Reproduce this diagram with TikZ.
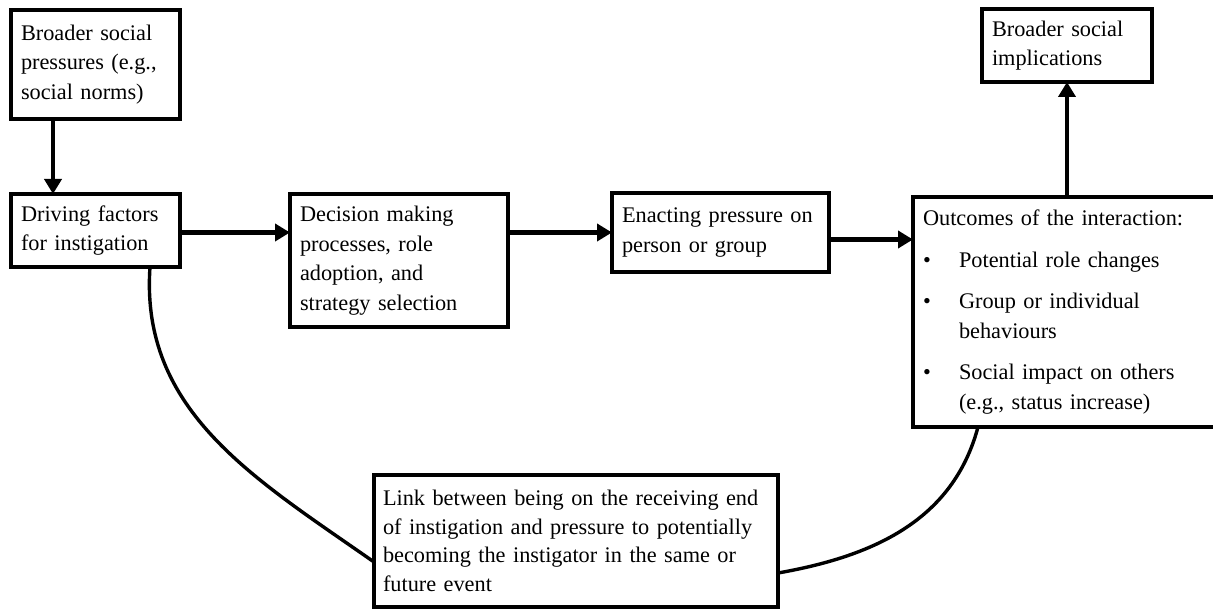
\documentclass[tikz,border=0pt]{standalone}
\usepackage{fontspec}
\setmainfont{Liberation Serif}
\usetikzlibrary{arrows.meta}
\tikzset{
  boxnode/.style n args={3}{draw, line width=3.2pt, anchor=north west, outer sep=0pt,
    inner xsep=10pt, inner ysep=0pt, align=left,
    font=\fontsize{22.3pt}{29.5pt}\selectfont,
    minimum width=#1pt, text width=#2pt, minimum height=#3pt},
  arr/.style={line width=4.5pt, -{Triangle[length=15pt,width=17pt]}},
  link/.style={line width=3.4pt},
}
\begin{document}
\begin{tikzpicture}[x=1pt,y=1pt]
\useasboundingbox (0,0) rectangle (1213,-609);
\node[boxnode={169}{149}{109}] (b1) at (11,-10) {Broader social\\pressures (e.g.,\\social norms)};
\node[boxnode={169}{149}{73}] (b2) at (11,-194) {Driving factors\\for instigation};
\node[boxnode={218}{198}{133}] (b3) at (290,-194) {Decision making\\processes, role\\adoption, and\\strategy selection};
\node[boxnode={217}{197}{79}] (b4) at (612,-193) {Enacting pressure on\\person or group};
\node[boxnode={303}{283}{230}] (b5) at (913,-197) {Outcomes of the interaction:\\[12pt]
\makebox[36pt][l]{\textbullet}Potential role changes\\[12pt]
\makebox[36pt][l]{\textbullet}Group or individual\\
\hspace*{36pt}behaviours\\[12pt]
\makebox[36pt][l]{\textbullet}Social impact on others\\
\hspace*{36pt}(e.g., status increase)};
\node[boxnode={170}{150}{73}] (b6) at (982,-9) {Broader social\\implications};
\node[boxnode={404}{386}{132}, inner xsep=9pt, font=\fontsize{22.3pt}{28.5pt}\selectfont] (b7) at (374,-475) {Link between being on the receiving end\\of instigation and pressure to potentially\\becoming the instigator in the same or\\future event};
% arrows
\coordinate (a1) at ([xshift=42pt]b1.south west);
\draw[arr] (a1) -- (a1 |- b2.north);
\coordinate (a2) at ([yshift=-2pt]b2.east);
\draw[arr] (a2) -- (a2 -| b3.west);
\draw[arr] (b4.west -| b3.east) -- (b4.west);
\coordinate (a4) at ([yshift=-7pt]b4.east);
\draw[arr] (a4) -- (a4 -| b5.west);
\draw[arr] (b6.south |- b5.north) -- (b6.south);
% feedback curves
\coordinate (l1) at ([xshift=139pt]b2.south west);
\coordinate (l2) at ([yshift=-87pt]b7.north west);
\draw[link] (l1) to[out=-94, in=145] (l2);
\coordinate (r1) at ([xshift=65pt]b5.south west);
\coordinate (r2) at ([yshift=-98pt]b7.north east);
\draw[link] (r1) to[out=-105, in=10] (r2);
\end{tikzpicture}
\end{document}
